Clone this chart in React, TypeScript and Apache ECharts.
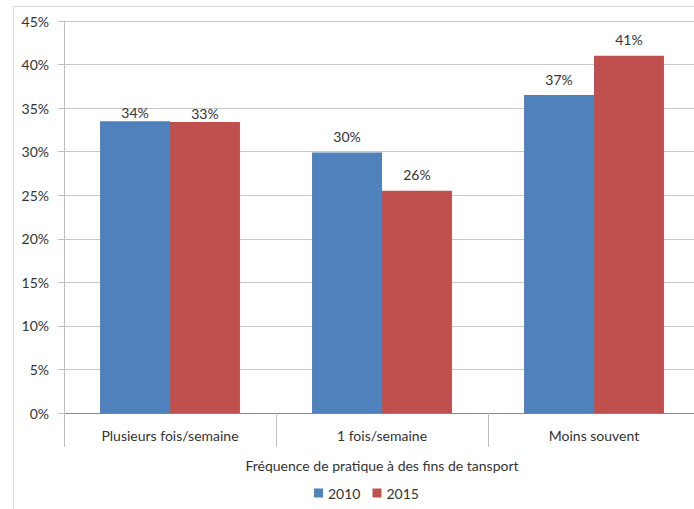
import React, { useEffect, useRef } from "react";
import * as echarts from "echarts";

const categories = ["Plusieurs fois/semaine", "1 fois/semaine", "Moins souvent"];
const series2010 = [33.5, 29.9, 36.5];
const series2015 = [33.4, 25.5, 41.0];
const seriesNames = ["2010", "2015"];
const yTicks = { min: 0, max: 45, interval: 5 };
const xAxisTitle = "Fréquence de pratique à des fins de tansport";

const FONT = "Lato, 'Open Sans', sans-serif";
const TXT = "#333333";

export default function App() {
  const ref = useRef<HTMLDivElement>(null);
  useEffect(() => {
    document.body.style.margin = "0";
    document.body.style.overflow = "hidden";
    document.documentElement.style.overflow = "hidden";
    const chart = echarts.init(ref.current!, null, { renderer: "svg" });
    const label = {
      show: true,
      position: "top" as const,
      distance: 9,
      color: TXT,
      fontSize: 14,
      fontFamily: FONT,
      formatter: (p: any) => Math.round(p.value) + "%",
    };
    const toData = (arr: number[]) =>
      arr.map((v, i) => (i === 0 ? { value: v, label: { distance: 2 } } : v));
    chart.setOption({
      animation: false,
      backgroundColor: "#ffffff",
      textStyle: { fontFamily: FONT },
      graphic: [
        {
          type: "rect",
          shape: { x: 13.5, y: 6.5, width: 720, height: 540 },
          style: { fill: "none", stroke: "#d9d9d9", lineWidth: 1 },
          silent: true,
          z: -1,
        },
      ],
      grid: { left: 64, right: 2, top: 21, height: 392, containLabel: false },
      legend: {
        data: seriesNames,
        left: 309,
        top: 481,
        itemWidth: 9,
        itemHeight: 9,
        itemGap: 12,
        icon: "rect",
        textStyle: { color: TXT, fontSize: 14, fontFamily: FONT },
      },
      xAxis: {
        type: "category",
        data: categories,
        name: xAxisTitle,
        nameLocation: "middle",
        nameGap: 45,
        nameTextStyle: { color: TXT, fontSize: 14, fontFamily: FONT },
        axisLine: { lineStyle: { color: "#868686" } },
        axisTick: { show: true, interval: 0, length: 34, lineStyle: { color: "#bfbfbf" } },
        axisLabel: { color: TXT, fontSize: 14, fontFamily: FONT, margin: 15 },
      },
      yAxis: {
        type: "value",
        min: yTicks.min,
        max: yTicks.max,
        interval: yTicks.interval,
        axisLine: { show: true, lineStyle: { color: "#bfbfbf" } },
        axisTick: { show: true, length: 6, lineStyle: { color: "#bfbfbf" } },
        splitLine: { lineStyle: { color: "#c8c8c8" } },
        axisLabel: {
          color: TXT,
          fontSize: 14,
          fontFamily: FONT,
          margin: 15,
          formatter: (v: number) => v + "%",
        },
      },
      series: [
        {
          name: seriesNames[0],
          type: "bar",
          data: toData(series2010),
          itemStyle: { color: "#4f81bd" },
          barGap: "0%",
          barCategoryGap: "34%",
          label,
        },
        {
          name: seriesNames[1],
          type: "bar",
          data: toData(series2015),
          itemStyle: { color: "#c0504d" },
          barGap: "0%",
          barCategoryGap: "34%",
          label,
        },
      ],
    });
    return () => chart.dispose();
  }, []);
  return (
    <div style={{ width: 694, height: 509, overflow: "hidden", position: "relative" }}>
      <div ref={ref} style={{ width: 702, height: 509 }} />
    </div>
  );
}
